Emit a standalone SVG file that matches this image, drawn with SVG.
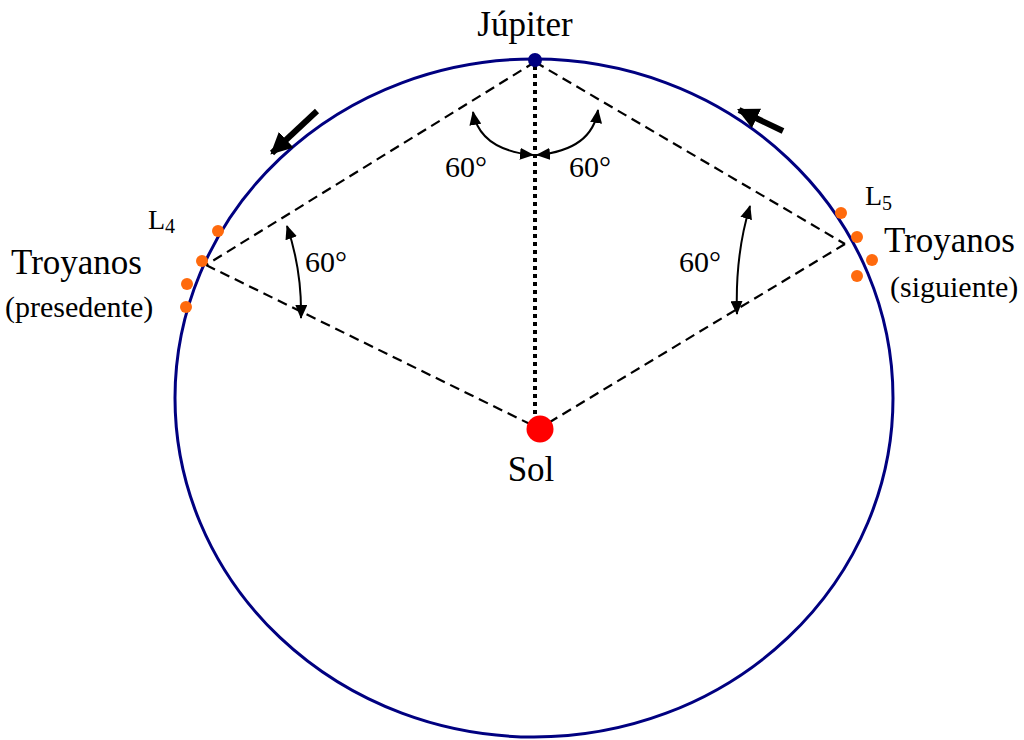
<svg xmlns="http://www.w3.org/2000/svg" width="1024" height="740" viewBox="0 0 1024 740">
<defs>
<marker id="ah" viewBox="0 0 14 12" refX="13" refY="6" markerWidth="14" markerHeight="12" markerUnits="userSpaceOnUse" orient="auto-start-reverse">
<path d="M0,0 L14,6 L0,12 Z" fill="#000"/>
</marker>
<marker id="big" viewBox="0 0 10 10" refX="9" refY="5" markerWidth="3.6" markerHeight="3.6" orient="auto">
<path d="M0,0 L10,5 L0,10 Z" fill="#000"/>
</marker>
<style>
text{font-family:"Liberation Serif","Times New Roman",serif;fill:#000}
.dash{stroke:#000;stroke-width:2.2;stroke-dasharray:10,6;fill:none}
.arc{stroke:#000;stroke-width:2;fill:none}
.troy{fill:#FF6A0D}
</style>
</defs>
<rect width="1024" height="740" fill="#fff"/>
<g id="orbit"><ellipse cx="534" cy="398" rx="359" ry="339" fill="none" stroke="#000080" stroke-width="3"/></g>
<g id="connectors">
<line class="dash" x1="535" y1="62" x2="206" y2="265"/>
<line class="dash" x1="535" y1="62" x2="845" y2="244"/>
<line class="dash" x1="206" y1="265" x2="538" y2="428"/>
<line class="dash" x1="845" y1="244" x2="540" y2="428"/>
<line x1="535" y1="66" x2="535" y2="418" stroke="#000" stroke-width="4" stroke-dasharray="4,4"/>
<path class="arc" d="M473,112 Q480,150 533,155" marker-start="url(#ah)" marker-end="url(#ah)"/>
<path class="arc" d="M598,110 Q592,150 537,155" marker-start="url(#ah)" marker-end="url(#ah)"/>
<path class="arc" d="M287,226 Q302,270 301,318" marker-start="url(#ah)" marker-end="url(#ah)"/>
<path class="arc" d="M750,206 Q735,255 737,314" marker-start="url(#ah)" marker-end="url(#ah)"/>
<line x1="317" y1="111" x2="272" y2="153" stroke="#000" stroke-width="6" marker-end="url(#big)"/>
<line x1="783" y1="131" x2="739" y2="110" stroke="#000" stroke-width="6" marker-end="url(#big)"/>
</g>
<g id="jupiter"><circle cx="535" cy="60" r="7" fill="#000080"/><text x="525" y="36" font-size="35" text-anchor="middle">Júpiter</text></g>
<g id="sol"><circle cx="540" cy="429" r="13.5" fill="#FF0000"/><text x="531" y="481" font-size="35" text-anchor="middle">Sol</text></g>
<g id="angles">
<text x="466" y="177" font-size="30" text-anchor="middle">60°</text>
<text x="590" y="177" font-size="30" text-anchor="middle">60°</text>
<text x="326" y="272" font-size="30" text-anchor="middle">60°</text>
<text x="700" y="272" font-size="30" text-anchor="middle">60°</text>
</g>
<g id="L4">
<circle class="troy" cx="218" cy="231" r="6"/><circle class="troy" cx="202" cy="261" r="6"/><circle class="troy" cx="187" cy="284" r="6"/><circle class="troy" cx="186" cy="307" r="6"/>
<text x="148" y="229" font-size="28">L<tspan font-size="20" dy="4">4</tspan></text>
<text x="11" y="274" font-size="35">Troyanos</text>
<text x="5" y="317" font-size="30">(presedente)</text>
</g>
<g id="L5">
<circle class="troy" cx="841" cy="213" r="6"/><circle class="troy" cx="857" cy="237" r="6"/><circle class="troy" cx="872" cy="260" r="6"/><circle class="troy" cx="857" cy="276" r="6"/>
<text x="865" y="205" font-size="28">L<tspan font-size="20" dy="5">5</tspan></text>
<text x="884" y="252" font-size="35">Troyanos</text>
<text x="890" y="297" font-size="30">(siguiente)</text>
</g>
</svg>
